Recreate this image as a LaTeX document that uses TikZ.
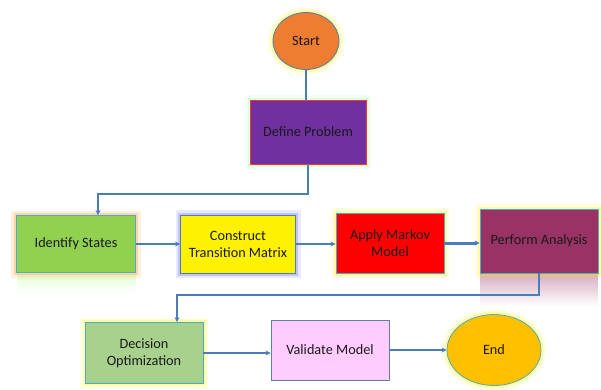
\documentclass[tikz,border=0pt]{standalone}
\usepackage{fontspec}
\setmainfont{Carlito}
\usepackage{tikz}
\usetikzlibrary{arrows.meta,shapes.geometric}

\definecolor{lnC}{RGB}{74,126,187}
\definecolor{rimC}{RGB}{75,172,198}
\definecolor{plumC}{RGB}{153,51,102}

\begin{document}
\begin{tikzpicture}[
  x=1bp,y=-1bp,
  >={Stealth[length=5bp,width=5bp]},
  every node/.style={font=\fontsize{14.3}{17}\selectfont,text=black!90,align=center},
  glow/.style={preaction={draw=#1,draw opacity=0.12,line width=10bp},
               preaction={draw=#1,draw opacity=0.25,line width=5bp}},
  bx/.style={draw=rimC,line width=0.8bp,inner sep=2bp},
  ov/.style={ellipse,draw=rimC,line width=0.8bp,inner sep=0pt},
  ln/.style={draw=lnC,line width=1.8bp}
]
\useasboundingbox (0,0) rectangle (601,389);

%% reflections
\shade[top color=plumC!40,bottom color=white] (480,274) rectangle (598,306);
\shade[top color=green!50!lime!18,bottom color=white] (17,274) rectangle (136,292);

%% top
\node[ov,glow=yellow,fill={rgb,255:red,237;green,125;blue,49},draw=lnC,minimum width=66bp,minimum height=57bp] (start) at (306,41) {Start};
\node[bx,glow=green!40,fill={rgb,255:red,112;green,48;blue,160},draw=red!80,minimum width=116bp,minimum height=64bp] (def) at (308,132) {Define Problem};

%% row 1
\node[bx,glow=orange,fill={rgb,255:red,146;green,208;blue,80},minimum width=119bp,minimum height=57bp] (ids) at (76,244) {Identify States};
\node[bx,glow=blue!70,fill=yellow,draw=lnC,minimum width=115bp,minimum height=58bp] (ctm) at (238,244) {Construct\\Transition Matrix};
\node[bx,glow=yellow,fill=red,minimum width=108bp,minimum height=60bp] (amm) at (390,243) {Apply Markov\\Model};
\node[bx,glow=yellow,fill=plumC,minimum width=118bp,minimum height=64bp] (pa) at (539,241) {Perform Analysis};

%% row 2
\node[bx,glow=yellow,fill={rgb,255:red,169;green,209;blue,142},minimum width=118bp,minimum height=61bp] (dec) at (144,353) {Decision\\Optimization};
\node[bx,fill={rgb,255:red,255;green,204;blue,255},draw=lnC!60!gray,minimum width=118bp,minimum height=60bp] (val) at (330,350) {Validate Model};
\node[ov,glow=yellow,fill={rgb,255:red,255;green,192;blue,0},minimum width=94bp,minimum height=71bp] (end) at (494,350) {End};

%% Arrows
\coordinate (j1) at (98,194);
\coordinate (j2) at (177,295);
\draw[ln] (start.south) -- (start.south |- def.north);
\draw[ln,->] (def.south) |- (j1) -- (j1 |- ids.north);
\draw[ln,->] (ids.east) -- (ctm.west);
\draw[ln,->] (ctm.east) -- (ctm.east -| amm.west);
\draw[ln,->,line width=3bp] (amm.east) -- (amm.east -| pa.west);
\draw[ln,->] (pa.south) |- (j2) -- (j2 |- dec.north);
\draw[ln,->] (dec.east) -- (dec.east -| val.west);
\draw[ln,->] (val.east) -- (val.east -| end.west);

\end{tikzpicture}
\end{document}
